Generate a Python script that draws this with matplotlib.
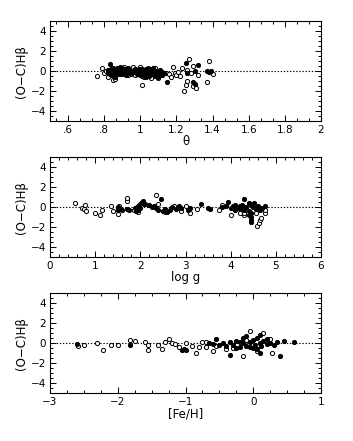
"""
(O-C) residuals of H-beta versus theta, log g and [Fe/H].
Three stacked panels, open / filled circles, dotted zero line.
"""

import numpy as np
import matplotlib
matplotlib.use("Agg")
import matplotlib.pyplot as plt
from matplotlib.ticker import MultipleLocator, FixedLocator, FixedFormatter

# --- panel 1: theta -------------------------------------------------------
theta_fill = [0.82, 0.82, 0.83, 0.83, 0.83, 0.84, 0.84, 0.84, 0.85, 0.85, 0.85,
              0.86, 0.86, 0.86, 0.87, 0.87, 0.88, 0.88, 0.88, 0.89, 0.89, 0.89,
              0.90, 0.90, 0.90, 0.91, 0.91, 0.92, 0.92, 0.93, 0.93, 0.94, 0.94,
              0.95, 0.95, 0.97, 0.97, 0.98, 0.98, 0.99, 0.99, 1.00, 1.00, 1.01,
              1.01, 1.01, 1.02, 1.02, 1.03, 1.03, 1.03, 1.04, 1.04, 1.05, 1.05,
              1.05, 1.06, 1.06, 1.07, 1.07, 1.08, 1.08, 1.09, 1.09, 1.10, 1.10,
              1.11, 1.11, 1.12, 1.12, 1.13, 1.15, 1.25, 1.32, 1.29, 1.30, 1.30,
              1.26, 1.38, 1.39, 1.37]
dy_theta_fill = [0.1, -0.2, 0.75, 0.0, -0.3, 0.2, -0.1, -0.4, 0.1, -0.2, 0.3,
                 0.0, -0.3, -0.6, 0.2, -0.1, 0.35, 0.0, -0.25, 0.1, -0.15, 0.4,
                 0.3, 0.0, -0.3, 0.15, -0.1, 0.25, -0.35, 0.05, 0.3, -0.2, 0.1,
                 0.0, -0.3, -0.1, 0.2, 0.1, -0.3, -0.2, 0.2, 0.0, -0.4, -0.1,
                 0.2, -0.5, 0.1, -0.3, -0.2, 0.25, -0.6, 0.0, -0.4, -0.1, 0.2,
                 -0.5, -0.3, 0.05, -0.2, 0.3, -0.45, -0.1, 0.0, -0.3, -0.2, -0.55,
                 -0.1, 0.15, -0.35, -0.05, -0.2, -1.1, 0.8, 0.65, -1.1, -1.3, 0.0,
                 -0.2, -0.1, 0.05, 0.0]
theta_open = [0.76, 0.79, 0.80, 0.81, 0.82, 0.84, 0.85, 0.86, 0.87, 0.89, 0.91,
              0.93, 0.96, 0.97, 1.00, 1.01, 1.02, 1.04, 1.06, 1.08, 1.10, 1.12,
              1.14, 1.16, 1.17, 1.18, 1.19, 1.20, 1.21, 1.22, 1.23, 1.24, 1.25,
              1.26, 1.26, 1.27, 1.28, 1.29, 1.29, 1.31, 1.32, 1.37, 1.38, 1.40]
dy_theta_open = [-0.5, 0.3, -0.15, 0.0, -0.6, -0.3, -0.9, -0.75, 0.35, -0.3, 0.45,
                 -0.35, 0.4, -0.4, 0.4, -1.35, -0.6, 0.35, -0.65, 0.3, -0.65, -0.4,
                 -0.15, -0.3, -0.6, 0.45, -0.2, -0.4, -0.1, -0.5, 0.3, -1.95, -1.4,
                 -1.0, 0.1, 1.2, -0.2, 0.55, -1.45, -1.7, -0.35, -1.05, 1.0, -0.3]

# --- panel 2: log g -------------------------------------------------------
logg_fill = [1.50, 1.50, 1.60, 1.70, 1.75, 1.88, 1.90, 1.92, 1.95, 1.98, 2.00,
             2.02, 2.05, 2.08, 2.20, 2.25, 2.30, 2.35, 2.45, 2.40, 2.50, 2.55,
             2.60, 2.65, 2.70, 2.80, 2.85, 2.90, 3.05, 3.10, 3.35, 3.50, 3.55,
             3.80, 3.90, 3.95, 4.00, 4.05, 4.10, 4.15, 4.20, 4.25, 4.30, 4.30,
             4.35, 4.40, 4.40, 4.45, 4.45, 4.45, 4.45, 4.45, 4.50, 4.52, 4.55,
             4.60, 4.65, 4.70, 4.75, 4.20, 4.10, 4.40]
dy_logg_fill = [-0.3, 0.0, -0.3, -0.2, -0.25, -0.1, -0.4, 0.0, -0.3, 0.2, -0.1,
                0.4, 0.6, 0.3, 0.2, 0.0, 0.1, -0.1, 0.8, -0.3, -0.4, -0.2,
                -0.5, -0.3, 0.0, -0.2, 0.1, -0.1, -0.3, -0.1, 0.3, -0.1, -0.2,
                0.0, 0.1, 0.5, -0.1, 0.1, -0.3, 0.0, -0.2, 0.2, 0.8, -0.3,
                0.0, 0.4, -0.4, 0.2, -0.6, -1.0, -1.3, -1.5, 0.0, 0.4, -0.2,
                0.1, -0.3, -0.1, 0.15, 0.1, 0.2, -0.8]
logg_open = [0.55, 0.70, 0.75, 0.78, 0.80, 1.00, 1.10, 1.15, 1.35, 1.40, 1.50,
             1.52, 1.70, 1.70, 1.85, 1.95, 2.10, 2.35, 2.40, 2.55, 2.75, 2.90,
             3.00, 3.10, 3.25, 3.75, 3.80, 4.00, 4.20, 4.30, 4.30, 4.55, 4.58,
             4.62, 4.65, 4.68, 4.75, 4.75]
dy_logg_open = [0.4, -0.05, -0.15, 0.2, -0.35, -0.6, -0.75, -0.3, 0.15, -0.35, -0.65,
                0.1, 0.6, 0.95, -0.3, -0.5, 0.3, 1.2, 0.3, -0.5, 0.1, -0.4,
                0.1, -0.55, -0.15, -0.3, 0.2, -0.8, -0.6, -0.8, -0.55, -0.6, -1.9,
                -1.6, -1.3, -1.05, -0.6, -0.3]

# --- panel 3: [Fe/H] ------------------------------------------------------
feh_fill = [-2.60, -1.82, -1.05, -1.00, -1.02, -0.55, -0.50, -0.45, -0.40, -0.35,
            -0.35, -0.30, -0.25, -0.20, -0.15, -0.15, -0.10, -0.10, -0.05, 0.00,
            0.00, 0.02, 0.05, 0.05, 0.10, 0.10, 0.10, 0.12, 0.15, 0.20, 0.20,
            0.25, 0.30, 0.35, 0.40, 0.45, 0.60, -0.60, -0.65, -0.20, -0.05, -0.25]
dy_feh_fill = [-0.05, -0.2, -0.7, -0.7, -0.6, 0.4, -0.2, 0.0, -0.3, -1.15,
               0.1, -0.2, 0.2, -0.4, 0.0, 0.5, -0.3, 0.7, 0.1, -0.5,
               0.3, -0.2, 0.5, -0.6, 0.0, -1.0, 0.8, -0.3, 0.2, -0.1, 0.4,
               0.0, -0.2, 0.1, -1.3, 0.2, 0.15, -0.1, 0.05, 0.1, -0.4, -0.5]
feh_open = [-2.58, -2.50, -2.30, -2.22, -2.10, -2.00, -1.82, -1.75, -1.60, -1.55,
            -1.55, -1.40, -1.35, -1.30, -1.25, -1.20, -1.15, -1.10, -1.00, -0.90,
            -0.85, -0.80, -0.75, -0.70, -0.70, -0.60, -0.55, -0.40, -0.30, -0.15,
            -0.05, 0.15, 0.28, 0.25, -0.10, 0.05]
dy_feh_open = [-0.3, -0.15, 0.0, -0.65, -0.2, -0.15, 0.3, 0.25, 0.15, -0.2,
               -0.65, -0.2, -0.6, 0.1, 0.45, 0.0, -0.05, -0.4, 0.0, -0.3,
               -0.95, -0.4, 0.1, 0.15, -0.4, -0.8, -0.3, -0.6, -0.5, -1.3,
               1.2, 1.0, -1.0, 0.4, 0.3, -0.8]

W, H = 353, 441
TICK_FS = 7.5
LABEL_FS = 8.5


def style_axis(ax, xlim, xmajor, xminor):
    ax.set_xlim(*xlim)
    ax.set_ylim(-5, 5)
    ax.xaxis.set_major_locator(MultipleLocator(xmajor))
    ax.xaxis.set_minor_locator(MultipleLocator(xminor))
    ax.yaxis.set_major_locator(MultipleLocator(2))
    ax.yaxis.set_minor_locator(MultipleLocator(0.5))
    ax.tick_params(which="both", direction="in", top=True, right=True,
                   labelsize=TICK_FS, width=0.7, pad=3)
    ax.tick_params(which="major", length=4)
    ax.tick_params(which="minor", length=2)
    for sp in ax.spines.values():
        sp.set_linewidth(0.8)
    ax.axhline(0, color="black", ls=(0, (1.2, 1.6)), lw=0.8, zorder=1)
    ax.set_ylabel("(O\u2212C)H\u03b2", fontsize=LABEL_FS, labelpad=2)


def scatter_panel(ax, xo, yo, xf, yf):
    ax.plot(xo, yo, "o", ms=3.0, mfc="white", mec="black", mew=0.7, zorder=2)
    ax.plot(xf, yf, "o", ms=3.0, mfc="black", mec="black", mew=0.7, zorder=3)


fig = plt.figure(figsize=(W / 100, H / 100), dpi=100)
left, width, height = 50 / W, 271 / W, 100 / H

ax1 = fig.add_axes([left, 1 - 121 / H, width, height])
ax2 = fig.add_axes([left, 1 - 257 / H, width, height])
ax3 = fig.add_axes([left, 1 - 393 / H, width, height])

# top panel
scatter_panel(ax1, theta_open, dy_theta_open, theta_fill, dy_theta_fill)
style_axis(ax1, (0.5, 2.0), 0.2, 0.2 / 3)
ax1.xaxis.set_major_locator(FixedLocator([0.6, 0.8, 1.0, 1.2, 1.4, 1.6, 1.8, 2.0]))
ax1.xaxis.set_major_formatter(FixedFormatter([".6", ".8", "1", "1.2", "1.4",
                                              "1.6", "1.8", "2"]))
ax1.set_xlabel("\u03b8", fontsize=LABEL_FS, labelpad=0)

# middle panel
scatter_panel(ax2, logg_open, dy_logg_open, logg_fill, dy_logg_fill)
style_axis(ax2, (0, 6), 1, 0.2)
ax2.set_xlabel("log g", fontsize=LABEL_FS, labelpad=0)

# bottom panel
scatter_panel(ax3, feh_open, dy_feh_open, feh_fill, dy_feh_fill)
style_axis(ax3, (-3, 1), 1, 0.25)
ax3.set_xlabel("[Fe/H]", fontsize=LABEL_FS, labelpad=0)

fig.savefig("out.png", dpi=100)
